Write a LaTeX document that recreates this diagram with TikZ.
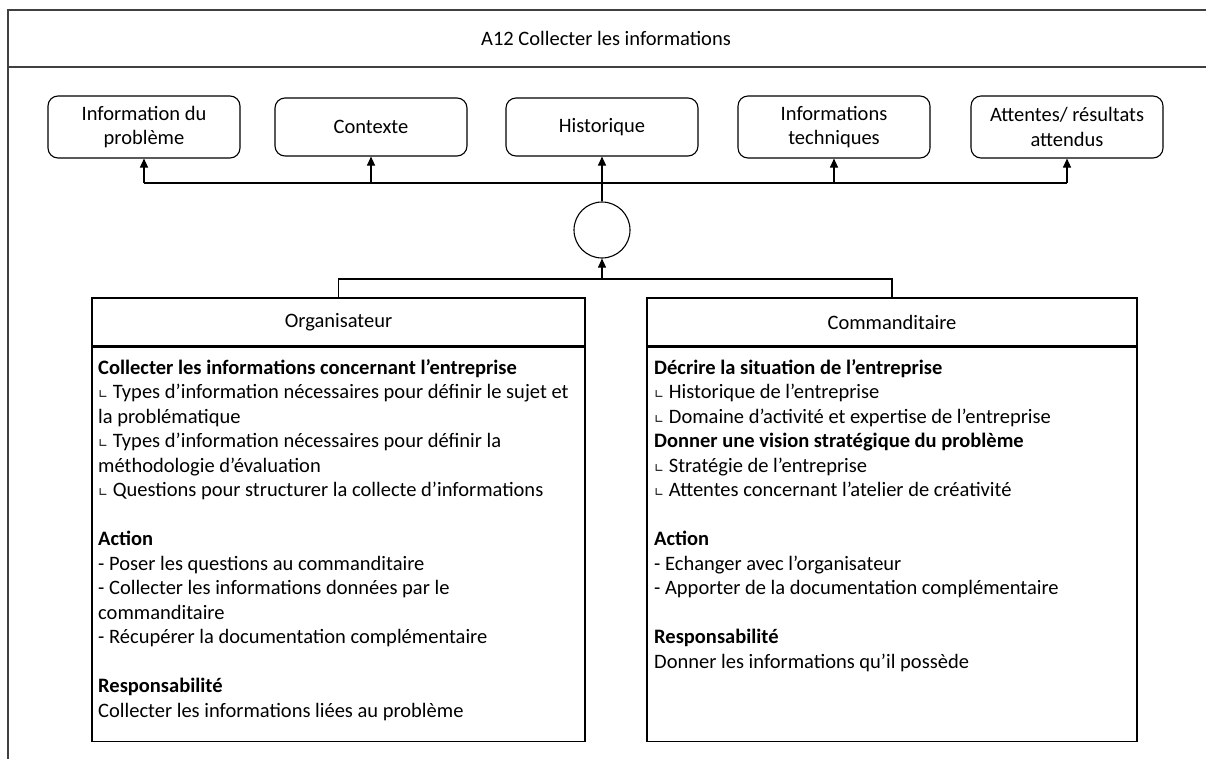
\documentclass[tikz,border=0pt]{standalone}
\usepackage{fontspec}
\setmainfont{Carlito}
\newfontfamily\symfont{DejaVu Sans}
\usetikzlibrary{arrows.meta}
\newcommand\angsym{{\symfont\fontsize{12}{12}\selectfont ∟}}
\begin{document}
\begin{tikzpicture}[x=1pt,y=-1pt,
  every node/.style={font=\fontsize{20.5}{24.5}\selectfont},
  ln/.style={line width=1.1pt, draw=black},
  frameline/.style={line width=1.4pt, draw=black!75},
  topbox/.style={draw, ln, rounded corners=10pt, minimum width=192pt, align=center, inner sep=0pt},
  hdrbox/.style={draw, ln, minimum width=493pt, minimum height=48pt, inner sep=0pt},
  bodybox/.style={draw, ln, minimum width=493pt, minimum height=394pt, inner sep=0pt},
  bodytext/.style={anchor=north west, align=left, inner sep=0pt},
  arr/.style={ln, -{Triangle[length=9pt,width=8pt]}},
  circ/.style={draw, ln, circle, minimum size=56pt, inner sep=0pt}
]
\useasboundingbox (0,0) rectangle (1206,758);
% outer frame
\coordinate (ftl) at (8,10);
\coordinate (ftr) at (1210,10);
\coordinate (fbl) at (8,762);
\coordinate (sl) at (8,67);
\coordinate (sr) at (1210,67);
\draw[frameline] (ftr) -- (ftl) -- (fbl);
\draw[frameline] (sl) -- (sr);
\node (title) at (606,38) {A12 Collecter les informations};

% top boxes
\node[topbox, minimum height=62pt] (t1) at (144,127) {Information du\\problème};
\node[topbox, minimum height=58pt] (t2) at (371,127) {Contexte};
\node[topbox, minimum height=58pt] (t3) at (602,127) {Historique};
\node[topbox, minimum height=62pt] (t4) at (834,127) {Informations\\techniques};
\node[topbox, minimum height=62pt] (t5) at (1067,127) {Attentes/ résultats\\attendus};

% circle
\node[circ] (c) at (602,230) {};
\coordinate (hy) at (0,183);
\draw[ln] (t1.south |- hy) -- (t5.south |- hy);
\draw[arr] (t1.south |- hy) -- (t1.south);
\draw[arr] (t2.south |- hy) -- (t2.south);
\draw[arr] (t4.south |- hy) -- (t4.south);
\draw[arr] (t5.south |- hy) -- (t5.south);
\draw[arr] (c.north) -- (t3.south);

% lower boxes
\node[hdrbox] (oh) at (338.5,322) {Organisateur};
\node[bodybox, anchor=north] (ob) at (oh.south) {};
\node[hdrbox, minimum width=490pt] (ch) at (892,322) {Commanditaire};
\node[bodybox, anchor=north, minimum width=490pt] (cb) at (ch.south) {};

\coordinate (j) at (602,279);
\draw[ln] (oh.north) |- (j);
\draw[ln] (ch.north) |- (j);
\draw[arr] (j) -- (c.south);

\node[bodytext] (otxt) at (98,359) {%
\textbf{Collecter les informations concernant l’entreprise}\\
\angsym{} Types d’information nécessaires pour définir le sujet et\\
la problématique\\
\angsym{} Types d’information nécessaires pour définir la\\
méthodologie d’évaluation\\
\angsym{} Questions pour structurer la collecte d’informations\\[24.5pt]
\textbf{Action}\\
- Poser les questions au commanditaire\\
- Collecter les informations données par le\\
commanditaire\\
- Récupérer la documentation complémentaire\\[24.5pt]
\textbf{Responsabilité}\\
Collecter les informations liées au problème};

\node[bodytext] (ctxt) at (654,359) {%
\textbf{Décrire la situation de l’entreprise}\\
\angsym{} Historique de l’entreprise\\
\angsym{} Domaine d’activité et expertise de l’entreprise\\
\textbf{Donner une vision stratégique du problème}\\
\angsym{} Stratégie de l’entreprise\\
\angsym{} Attentes concernant l’atelier de créativité\\[24.5pt]
\textbf{Action}\\
- Echanger avec l’organisateur\\
- Apporter de la documentation complémentaire\\[24.5pt]
\textbf{Responsabilité}\\
Donner les informations qu’il possède};
\end{tikzpicture}
\end{document}
